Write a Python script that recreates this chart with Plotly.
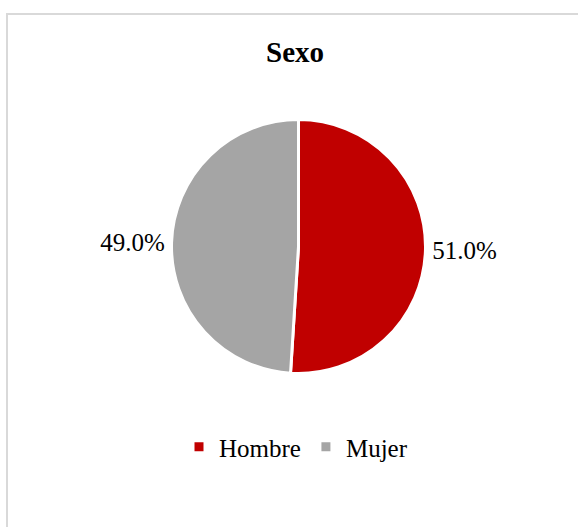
import plotly.graph_objects as go

categories = ["Hombre", "Mujer"]
values = [51.0, 49.0]
colors = ["#C00000", "#A5A5A5"]
title_text = "Sexo"

W, H = 578, 527
cx, cy, r = 298.5, 246.5, 127

fig = go.Figure(go.Pie(
    labels=categories,
    values=values,
    sort=False,
    direction="clockwise",
    rotation=0,
    marker=dict(colors=colors, line=dict(color="white", width=3)),
    textposition="outside",
    texttemplate="%{percent:.1%}",
    textfont=dict(family="Liberation Serif", size=25, color="#000000"),
    hoverinfo="label+percent",
    domain=dict(x=[(cx - r) / W, (cx + r) / W],
                y=[(H - cy - r) / H, (H - cy + r) / H]),
))

fig.update_layout(
    width=W, height=H,
    margin=dict(l=0, r=0, t=0, b=0),
    paper_bgcolor="white",
    plot_bgcolor="white",
    title=dict(text="<b>" + title_text + "</b>", x=295 / W, xanchor="center",
               y=1 - 52 / H, yanchor="middle",
               font=dict(family="Liberation Serif", size=29, color="#000000")),
    showlegend=True,
    legend=dict(orientation="h", x=296 / W, xanchor="center",
                y=1 - 447 / H, yanchor="middle",
                font=dict(family="Liberation Serif", size=25, color="#000000"),
                itemwidth=30),
    shapes=[dict(type="rect", xref="paper", yref="paper",
                 x0=7 / W, x1=1.05, y0=-0.05, y1=1 - 14 / H,
                 line=dict(color="#D9D9D9", width=2), fillcolor="rgba(0,0,0,0)",
                 layer="below")],
)

fig.write_html("out.html", config={"displayModeBar": False},
               post_script="document.body.style.margin='0';document.body.style.padding='0';")
